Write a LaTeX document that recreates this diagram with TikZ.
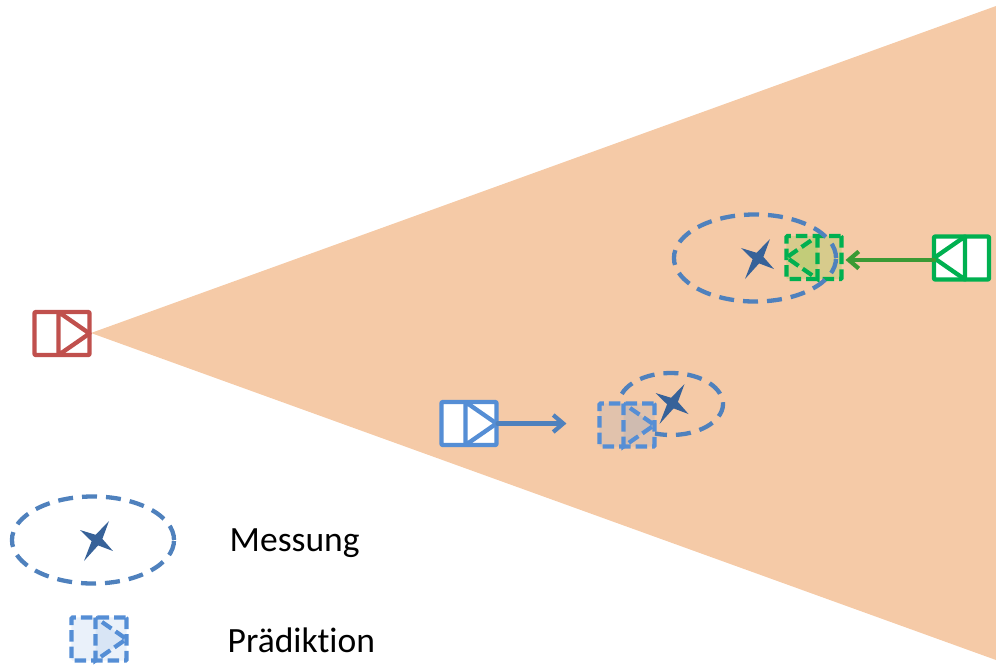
\documentclass[tikz,border=0pt]{standalone}
\usepackage{fontspec}
\setmainfont{Carlito}[Ligatures=NoCommon]
\usetikzlibrary{positioning, arrows.meta, shapes.geometric}
\definecolor{conecol}{HTML}{F5CAA7}
\definecolor{redcar}{HTML}{C0504D}
\definecolor{bluecar}{HTML}{558ED5}
\definecolor{greencar}{HTML}{00B050}
\definecolor{greenfill}{HTML}{92D050}
\definecolor{greenmove}{HTML}{3A9A35}
\definecolor{errcol}{HTML}{4F81BD}
\definecolor{starcol}{HTML}{376299}
\tikzset{
	x=0.01cm, y=-0.01cm, % one unit is one pixel of the sketch
	>={Straight Barb[length=0.1cm, width=0.17cm]}, % open arrow heads
	carbody/.style={rectangle, rounded corners=0.01cm, minimum width=0.55cm, minimum height=0.43cm, inner sep=0pt, outer sep=0pt}, % outline of a vehicle
	carline/.style={line width=0.043cm, line join=round}, % solid vehicle
	predline/.style={line width=0.042cm, dash pattern=on 0.115cm off 0.05cm}, % predicted vehicle
	errline/.style={draw=errcol, line width=0.043cm, dash pattern=on 0.15cm off 0.09cm}, % measuring error
	errnode/.style={ellipse, errline, minimum width=1.62cm, minimum height=0.87cm, inner sep=0pt},
	moveline/.style={->, line width=0.042cm, line cap=round},
	labeltext/.style={anchor=base west, inner sep=0pt, font=\fontsize{10.1}{12}\selectfont},
	carright/.pic={
		\node[carbody, pic actions] (-body) at (0,0) {};
		\path[pic actions] (-3.5,-21.5) -- (-3.5,21.5) -- (27.5,0) -- cycle;
	},
	sparkle/.pic={
		\fill[starcol] (12,-19) -- (5.4,-1.1) -- (16,11) -- (1.1,5.4) -- (-13,21) -- (-5.4,1.3) -- (-17,-10) -- (-1.4,-5.2) -- cycle;
	},
}
\begin{document}
\begin{tikzpicture}
	\useasboundingbox (0,0) rectangle (996,666);
	\fill[conecol] (91,333) -- (996,6) -- (996,660) -- cycle;

	\pic[draw=redcar, fill=white, carline] (ego) at (62,333.5) {carright};
	\pic[draw=bluecar, fill=white, carline] (bluecar) at (469,423.5) {carright};
	\pic[draw=greencar, fill=white, carline, xscale=-1] (greencar) at (961.5,258) {carright};

	\pic[draw=bluecar, fill=bluecar, fill opacity=0.12, predline] (bluepred) at (627,425) {carright};
	\pic[draw=greencar, fill=greenfill, fill opacity=0.3, predline, xscale=-1] (greenpred) at (814,257.5) {carright};
	\pic[draw=bluecar, fill=bluecar, fill opacity=0.12, predline] (legendpred) at (99,639) {carright};

	\draw[errline] (671,404) ++(199:52 and 31) arc[start angle=199, end angle=468, x radius=52, y radius=31];
	\node[errnode] (greenerr) at (755,258) {};
	\node[errnode] (legenderr) at (93,540) {};

	\pic (bluestar) at (672.5,403) {sparkle};
	\pic (greenstar) at (758,258) {sparkle};
	\pic (legendstar) at (97,540) {sparkle};

	\draw[moveline, draw=errcol, shorten <=0.01cm, shorten >=0.33cm] (bluecar-body.east) -- (bluepred-body.west |- bluecar-body.east);
	\draw[moveline, draw=greenmove, shorten >=0.04cm] ([yshift=-0.02cm]greencar-body.west) -- ([yshift=-0.02cm]greenpred-body.east |- greencar-body.west);

	\node[labeltext] (mess) at (229,551) {Messung};
	\node[labeltext] (pred) at (227,652) {Prädiktion};
\end{tikzpicture}
\end{document}
